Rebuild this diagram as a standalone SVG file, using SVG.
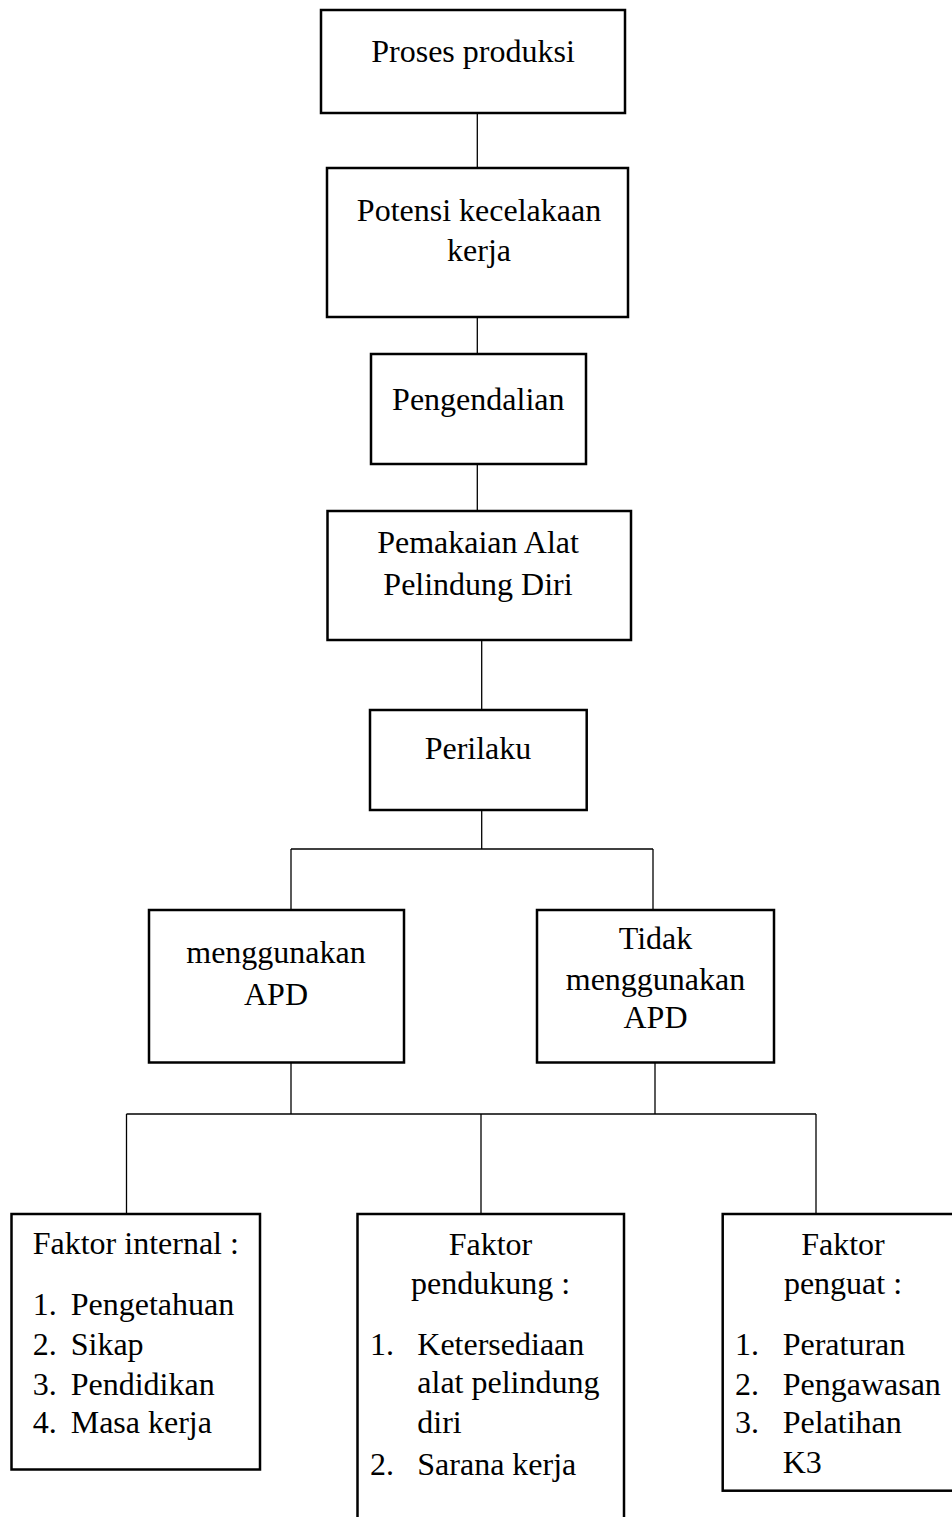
<svg xmlns="http://www.w3.org/2000/svg" width="952" height="1517" viewBox="0 0 952 1517">
<style>
.box{fill:#fff;stroke:#000;stroke-width:2.5}
.ln{fill:none;stroke:#000;stroke-width:1.3}
text{font-family:"Liberation Serif","Times New Roman",serif;font-size:32px;fill:#000}
.c{text-anchor:middle}
</style>
<rect width="952" height="1517" fill="#fff"/>
<g id="connectors">
<line class="ln" x1="477.3" y1="113" x2="477.3" y2="168"/>
<line class="ln" x1="477.3" y1="317" x2="477.3" y2="354"/>
<line class="ln" x1="477.3" y1="464" x2="477.3" y2="511"/>
<line class="ln" x1="481.7" y1="640" x2="481.7" y2="710"/>
<line class="ln" x1="481.7" y1="810" x2="481.7" y2="849"/>
<line class="ln" x1="291" y1="849" x2="653" y2="849"/>
<line class="ln" x1="291" y1="849" x2="291" y2="910"/>
<line class="ln" x1="653" y1="849" x2="653" y2="910"/>
<line class="ln" x1="291" y1="1062" x2="291" y2="1114"/>
<line class="ln" x1="655" y1="1062" x2="655" y2="1114"/>
<line class="ln" x1="126.5" y1="1114" x2="816" y2="1114"/>
<line class="ln" x1="126.5" y1="1114" x2="126.5" y2="1214"/>
<line class="ln" x1="481" y1="1114" x2="481" y2="1214"/>
<line class="ln" x1="816" y1="1114" x2="816" y2="1214"/>
</g>
<g id="proses">
<rect class="box" x="321" y="10" width="304" height="103"/>
<text class="c" x="473" y="62">Proses produksi</text>
</g>
<g id="potensi">
<rect class="box" x="327" y="168" width="301" height="149"/>
<text class="c" x="479" y="221">Potensi kecelakaan</text>
<text class="c" x="479" y="261">kerja</text>
</g>
<g id="pengendalian">
<rect class="box" x="371" y="354" width="215" height="110"/>
<text class="c" x="478.3" y="410">Pengendalian</text>
</g>
<g id="pemakaian">
<rect class="box" x="327.5" y="511" width="303.5" height="129"/>
<text class="c" x="478" y="553">Pemakaian Alat</text>
<text class="c" x="478" y="595">Pelindung Diri</text>
</g>
<g id="perilaku">
<rect class="box" x="370" y="710" width="216.7" height="100"/>
<text class="c" x="478" y="759">Perilaku</text>
</g>
<g id="menggunakan">
<rect class="box" x="149" y="910" width="255" height="152.5"/>
<text class="c" x="276" y="963">menggunakan</text>
<text class="c" x="276" y="1005">APD</text>
</g>
<g id="tidak">
<rect class="box" x="537" y="910" width="237" height="152.5"/>
<text class="c" x="655.5" y="949">Tidak</text>
<text class="c" x="655.5" y="990">menggunakan</text>
<text class="c" x="655.5" y="1028">APD</text>
</g>
<g id="internal">
<rect class="box" x="11.5" y="1214" width="248.5" height="255.5"/>
<text x="32.7" y="1254">Faktor internal :</text>
<text x="32.7" y="1315">1.</text><text x="70.7" y="1315">Pengetahuan</text>
<text x="32.7" y="1355">2.</text><text x="70.7" y="1355">Sikap</text>
<text x="32.7" y="1395">3.</text><text x="70.7" y="1395">Pendidikan</text>
<text x="32.7" y="1433">4.</text><text x="70.7" y="1433">Masa kerja</text>
</g>
<g id="pendukung">
<rect class="box" x="357.5" y="1214" width="266.5" height="330"/>
<text class="c" x="490.5" y="1255">Faktor</text>
<text class="c" x="490.5" y="1294">pendukung :</text>
<text x="370" y="1355">1.</text><text x="417.3" y="1355">Ketersediaan</text>
<text x="417.3" y="1393">alat pelindung</text>
<text x="417.3" y="1433">diri</text>
<text x="370" y="1475">2.</text><text x="417.3" y="1475">Sarana kerja</text>
</g>
<g id="penguat">
<rect class="box" x="722.7" y="1214" width="250" height="276.7"/>
<text class="c" x="843" y="1255">Faktor</text>
<text class="c" x="843" y="1294">penguat :</text>
<text x="735" y="1355">1.</text><text x="782.7" y="1355">Peraturan</text>
<text x="735" y="1395">2.</text><text x="782.7" y="1395">Pengawasan</text>
<text x="735" y="1433">3.</text><text x="782.7" y="1433">Pelatihan</text>
<text x="782.7" y="1473">K3</text>
</g>
</svg>
